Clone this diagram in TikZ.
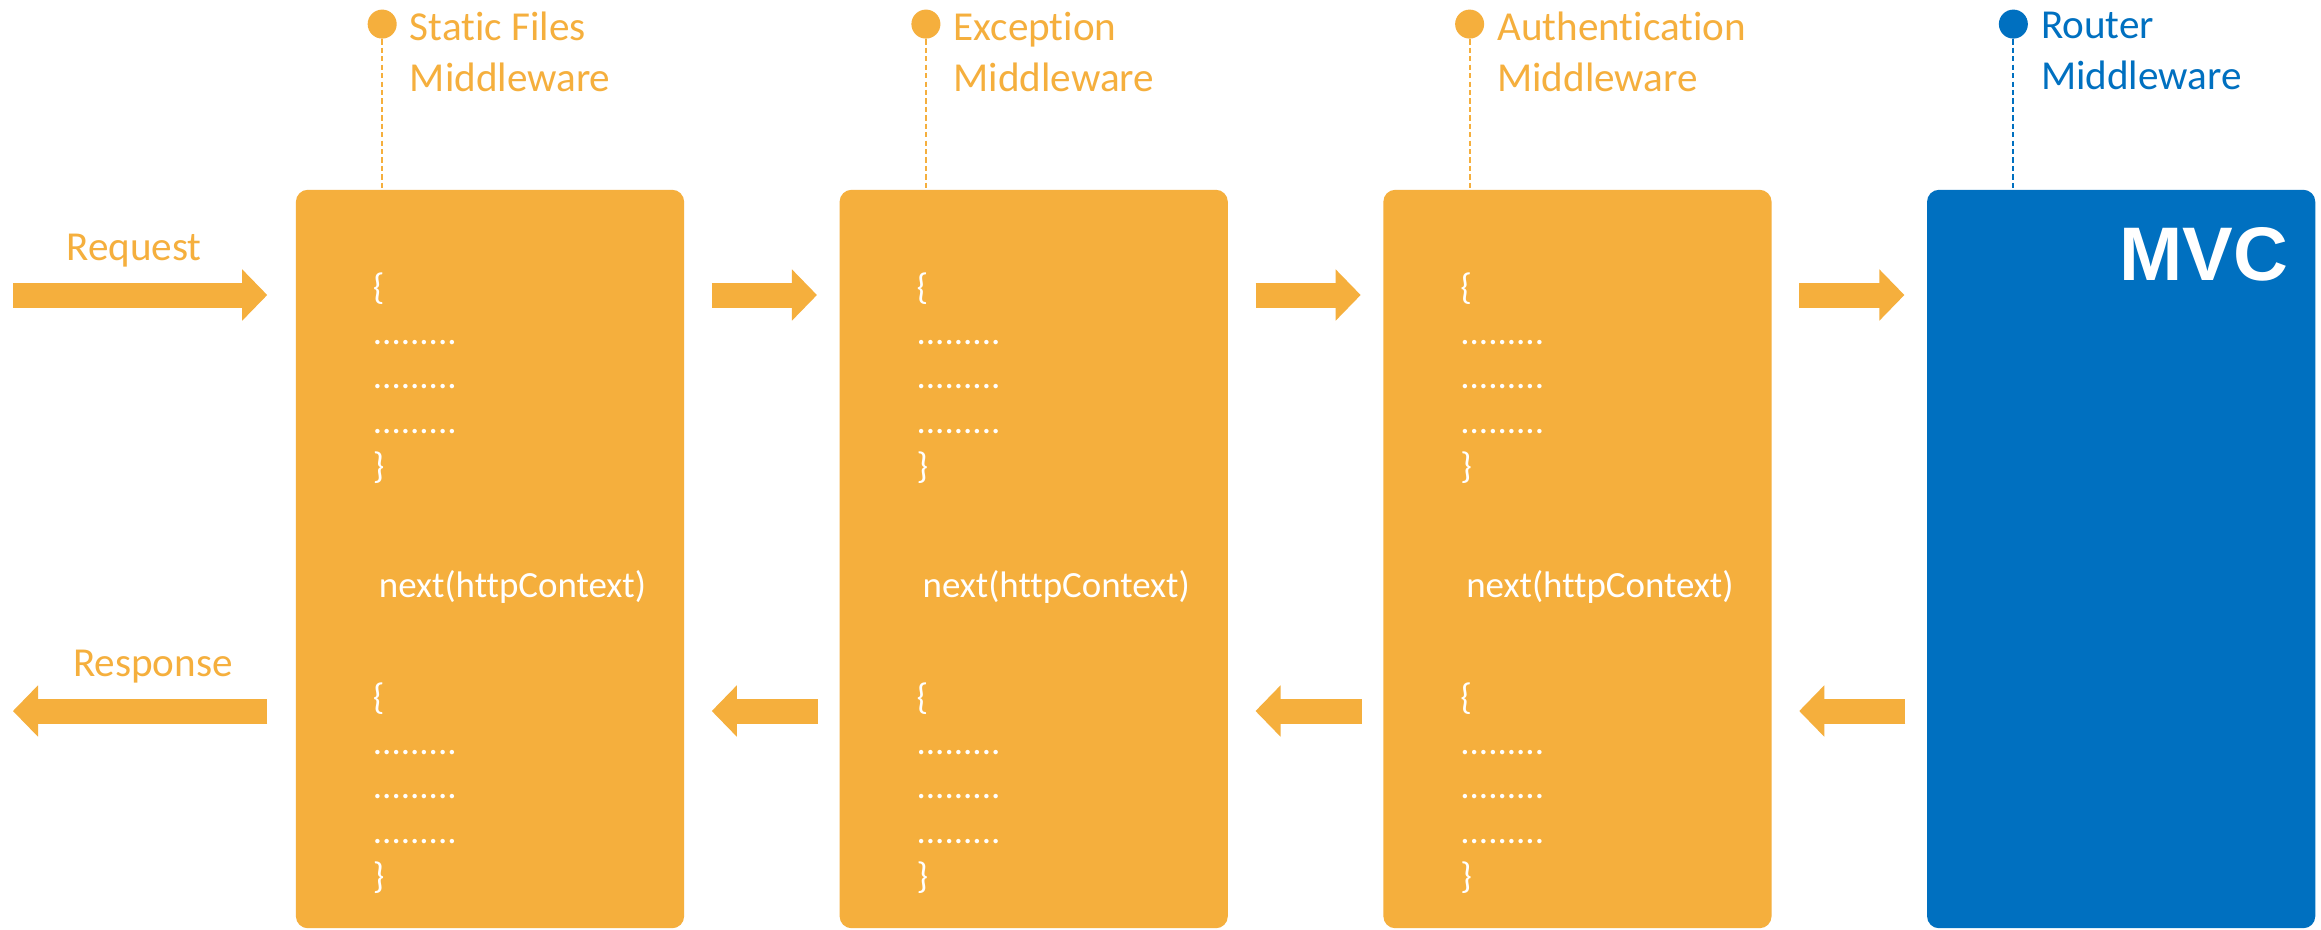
\documentclass[tikz,border=0pt]{standalone}
\usepackage{fontspec}
\setmainfont{Carlito}[Ligatures=NoCommon]
\newfontfamily\mvcfont{Liberation Sans}
\usetikzlibrary{positioning,arrows.meta}
\definecolor{mwgold}{HTML}{F5AF3D}
\definecolor{mvcblue}{HTML}{0070C0}

\tikzset{
	mwbox/.style={rectangle, rounded corners=0.12cm, fill=mwgold, minimum width=3.88cm, minimum height=7.38cm, inner sep=0pt},
	mvcbox/.style={mwbox, fill=mvcblue},
	flow/.style={draw=mwgold, line width=0.25cm, -{Triangle[width=0.51cm, length=0.25cm, line width=0.6pt]}},
	tagdot/.style={circle, fill=#1, minimum size=0.29cm, inner sep=0pt},
	tagline/.style={draw=#1, line width=0.6pt, dash pattern=on 1.5pt off 0.9pt},
	tagtext/.style={text=#1, align=left, anchor=north west, inner sep=0pt, font=\fontsize{11.7}{14.5}\selectfont},
	codetext/.style={text=white, align=left, anchor=north west, inner sep=0pt, font=\fontsize{10.5}{12.7}\selectfont}
}

\begin{document}
\begin{tikzpicture}[x=0.01cm, y=-0.01cm]
	\path[fill=white] (0,0) rectangle (2321,929);
	\node[mwbox] (sf) at (490,559) {};
	\node[mwbox, right=1.54cm of sf] (ex) {};
	\node[mwbox, right=1.54cm of ex] (au) {};
	\node[mvcbox, right=1.54cm of au] (mvc) {};
	% middleware tags
	\foreach \b/\c/\t in {sf/mwgold/{Static Files\\Middleware}, ex/mwgold/{Exception\\Middleware}, au/mwgold/{Authentication\\Middleware}, mvc/mvcblue/{Router\\Middleware}} {
		\node[tagdot=\c] (\b-dot) at ([shift={(87,-165)}]\b.north west) {};
		\draw[tagline=\c] (\b-dot) -- (\b-dot |- \b.north);
		\node[tagtext=\c] (\b-tag) at ([shift={(114,-178)}]\b.north west) {\t};
	}
	% code inside the boxes
	\foreach \b in {sf,ex,au} {
		\node[codetext] (\b-pre) at ([shift={(77,83)}]\b.north west) {\{\\.........\\.........\\.........\\\}};
		\node[codetext, anchor=base west] (\b-next) at ([shift={(83,408)}]\b.north west) {next(httpContext)};
		\node[codetext] (\b-post) at ([shift={(77,493)}]\b.north west) {\{\\.........\\.........\\.........\\\}};
	}
	\node[text=white, font=\mvcfont\bfseries\fontsize{21.6}{26}\selectfont, anchor=base east, inner sep=0pt] (mvc-lbl) at ([shift={(-27,91)}]mvc.north east) {MVC};
	% request / response
	\coordinate (reqtail) at (13,295);
	\coordinate (resptip) at (13,711);
	\node[tagtext=mwgold, anchor=base] (req-lbl) at (134,260) {Request};
	\node[tagtext=mwgold, anchor=base] (resp-lbl) at (153,676) {Response};
	\draw[flow] (reqtail) -- ([xshift=-0.28cm]sf.west |- reqtail);
	\draw[flow] ([xshift=-0.28cm]sf.west |- resptip) -- (resptip);
	\foreach \a/\b in {sf/ex, ex/au, au/mvc} {
		\draw[flow] ([xshift=0.27cm]\a.east |- reqtail) -- ([xshift=-0.22cm]\b.west |- reqtail);
		\draw[flow] ([xshift=-0.21cm]\b.west |- resptip) -- ([xshift=0.27cm]\a.east |- resptip);
	}
\end{tikzpicture}
\end{document}
